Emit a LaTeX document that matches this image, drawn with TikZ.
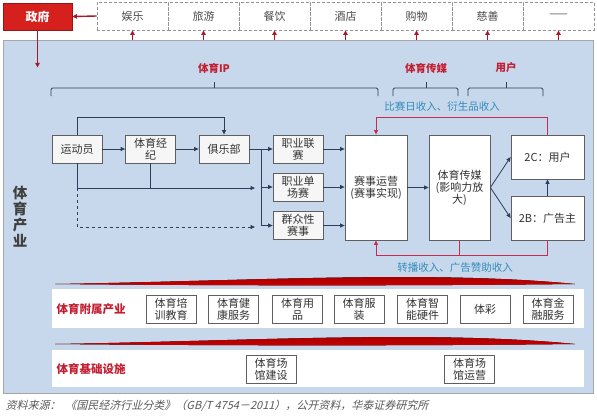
\documentclass[tikz,border=0pt]{standalone}
\usepackage{fontspec}
\setmainfont{Noto Sans CJK SC}
\newfontfamily\cjkslant[FakeSlant=0.25]{Noto Sans CJK SC}
\usetikzlibrary{arrows.meta,calc}
\definecolor{mainblue}{RGB}{200,216,236}
\definecolor{linec}{RGB}{45,62,90}
\definecolor{revred}{RGB}{196,44,80}
\definecolor{govred}{RGB}{214,32,30}
\definecolor{labred}{RGB}{196,30,50}
\definecolor{tealc}{RGB}{50,140,185}
\definecolor{boxfill}{RGB}{246,246,246}
\definecolor{boxline}{RGB}{95,95,95}
\tikzset{
  box/.style={draw=boxline, fill=boxfill, line width=0.8pt, minimum width=50pt, minimum height=28pt,
    align=center, inner sep=1pt, font=\fontsize{11}{12}\selectfont, text=black!80},
  sbox/.style={box, fill=white},
  cell/.style={draw=gray!85, densely dashed, line width=0.8pt, minimum width=71pt, minimum height=28pt,
    font=\fontsize{11}{12}\selectfont, text=black!70},
  arr/.style={draw=linec, line width=0.8pt, -{Triangle[length=4.5pt,width=4pt]}},
  plain/.style={draw=linec, line width=0.8pt},
  redarr/.style={draw=revred, line width=1pt, -{Triangle[length=4.5pt,width=4pt]}},
  upred/.style={draw=labred!85!black, line width=1.4pt, -{Triangle[length=4.5pt,width=4.5pt]}},
  redline/.style={draw=revred, line width=1pt},
  brace/.style={draw=linec, line width=0.8pt, rounded corners=1.5pt},
  head/.style={text=labred, font=\bfseries\fontsize{10.5}{12}\selectfont},
  rev/.style={text=tealc, font=\fontsize{10.5}{12}\selectfont},
  bandlab/.style={text=labred, anchor=west, font=\bfseries\fontsize{11.5}{13}\selectfont},
  band/.style={fill=white, draw=none, minimum width=532pt, anchor=north west, inner sep=0pt},
  swoosh/.style={top color=red!55!black, bottom color=red!80!black, draw=none}
}
\begin{document}
\begin{tikzpicture}[x=1pt,y=-1pt]
\useasboundingbox (0,0) rectangle (597,418);
\fill[white] (0,0) rectangle (597,418);
% main panel
\node[draw=gray!70, fill=mainblue, line width=1.2pt, minimum width=590pt, minimum height=353pt,
  anchor=north west, inner sep=0pt] (main) at (3,40) {};
% government and top cells
\node[fill=govred, draw=govred!70!black, line width=0.8pt, minimum width=69pt, minimum height=27pt,
  text=white, font=\bfseries\fontsize{12}{13}\selectfont] (gov) at (37.5,16.5) {政府};
\node[cell] (t1) at (132.5,16) {娱乐};
\node[cell] (t2) at (203.5,16) {旅游};
\node[cell] (t3) at (274.5,16) {餐饮};
\node[cell] (t4) at (345.5,16) {酒店};
\node[cell] (t5) at (416.5,16) {购物};
\node[cell] (t6) at (487.5,16) {慈善};
\node[cell] (t7) at (558.5,16) {——};
\draw[upred] (t1.west) -- (gov.east);
\draw[upred] (gov.south) -- ++(0,37);
\foreach \c in {t1,t2,t3,t4,t5,t6,t7}{
  \draw[upred] (\c.south |- main.north) -- (\c.south);
}
% side label
\node[align=center, text=black!75, font=\bfseries\fontsize{14.5}{16}\selectfont] (side) at (20,217) {体\\育\\产\\业};
% braces and headings
\node[head] (hip) at (214,68) {体育IP};
\node[head] (hmed) at (426,68) {体育传媒};
\node[head] (husr) at (506,68) {用户};
\draw[brace] (51,96) -- (51,88) -- (378,88) -- (378,96);
\draw[plain] (214,88) -- (214,82);
\draw[brace] (393,96) -- (393,88) -- (458,88) -- (458,96);
\draw[plain] (426,88) -- (426,82);
\draw[brace] (468,96) -- (468,88) -- (543,88) -- (543,96);
\draw[plain] (506,88) -- (506,82);
% boxes
\node[box] (ath) at (77,149) {运动员};
\node[box] (agent) at (150.5,149) {体育经\\纪};
\node[box] (club) at (224,149) {俱乐部};
\node[box] (lg) at (298,149) {职业联\\赛};
\node[box] (single) at (298,187) {职业单\\场赛};
\node[box] (mass) at (298,225.5) {群众性\\赛事};
\node[box, fill=white, minimum width=62pt, minimum height=105pt] (ops) at (376,187.5) {赛事运营\\(赛事实现)};
\node[box, fill=white, minimum width=61pt, minimum height=105pt] (media) at (459.5,187.5) {体育传媒\\(影响力放\\大)};
\node[box, fill=white, minimum width=73pt, minimum height=44pt] (c2) at (547.5,157) {2C：用户};
\node[box, fill=white, minimum width=73pt, minimum height=44pt] (b2) at (547.5,218) {2B：广告主};
% connectors in IP part
\coordinate (bA) at (261,149);
\coordinate (bB) at (261,187);
\coordinate (bC) at (261,225.5);
\coordinate (j1) at (255,188);
\coordinate (j2) at (255,227);
\draw[arr] (ath) -- (agent);
\draw[arr] (agent) -- (club);
\draw[arr] (ath.north) -- ++(0,-17) -| (club.north);
\draw[arr] (club) -- (lg);
\draw[plain] (bA) -- (bC);
\draw[arr] (bB) -- (single);
\draw[arr] (bC) -- (mass);
\draw[arr] (ath.south) |- (j1);
\draw[plain] (agent.south) -- (agent.south |- j1);
\draw[arr, dashed] (ath.south |- j1) |- (j2);
\draw[arr] (lg.east) -- (lg.east -| ops.west);
\draw[arr] (single.east) -- (single.east -| ops.west);
\draw[arr] (mass.east) -- (mass.east -| ops.west);
\draw[arr] (ops) -- (media);
\draw[arr] (media.east) -- (c2.west);
\draw[arr] (media.east) -- (b2.west);
\draw[arr] (b2) -- (c2);
% revenue loops
\draw[redarr] (c2.north) -- ++(0,-17) -| (ops.north);
\draw[redarr] (b2.south) -- ++(0,15) -| (ops.south);
\draw[redline] (media.south) -- ++(0,15);
\node[rev] (r1) at (442,106) {比赛日收入、衍生品收入};
\node[rev] (r2) at (455,268) {转播收入、广告赞助收入};
% swooshes
\fill[swoosh] (55,284) .. controls (250,281) and (430,270) .. (575,284) .. controls (400,286) and (200,285.5) .. (55,284) -- cycle;
\fill[swoosh] (55,344) .. controls (250,341) and (430,330) .. (575,344) .. controls (400,346) and (200,345.5) .. (55,344) -- cycle;
% bands
\node[band, minimum height=39pt] (band1) at (52,289) {};
\node[band, minimum height=37pt] (band2) at (52,350) {};
\node[bandlab] (l1) at (53,309) {体育附属产业};
\node[bandlab] (l2) at (53,369) {体育基础设施};
\node[sbox] (s1) at (171,309) {体育培\\训教育};
\node[sbox] (s2) at (233.5,309) {体育健\\康服务};
\node[sbox] (s3) at (297.5,309) {体育用\\品};
\node[sbox] (s4) at (359,309) {体育服\\装};
\node[sbox] (s5) at (422.5,309) {体育智\\能硬件};
\node[sbox] (s6) at (485,309) {体彩};
\node[sbox] (s7) at (548,309) {体育金\\融服务};
\node[sbox] (u1) at (271,369) {体育场\\馆建设};
\node[sbox] (u2) at (469.5,369) {体育场\\馆运营};
% footer
\node[anchor=west, text=black!65, font=\cjkslant\fontsize{11}{12}\selectfont] (foot) at (2,406)
  {资料来源：\ \ 《国民经济行业分类》（GB/T 4754－2011），公开资料，华泰证券研究所};
\end{tikzpicture}
\end{document}
